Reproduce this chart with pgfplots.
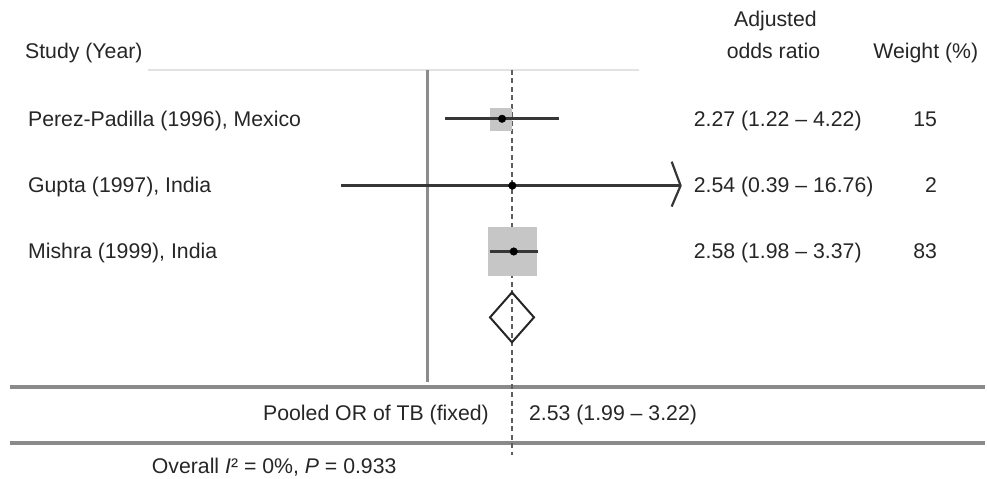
\documentclass[border=0pt]{standalone}
\usepackage{pgfplots}
\pgfplotsset{compat=1.18}
\usepackage{fontspec}
\setmainfont{Liberation Sans}
\definecolor{cigray}{HTML}{363636}
\definecolor{boxgray}{HTML}{C6C6C6}
\definecolor{refgray}{HTML}{8C8C8C}
\definecolor{rulegray}{HTML}{8A8A8A}
\definecolor{dashgray}{HTML}{5E5E5E}
\definecolor{faintgray}{HTML}{E2E2E2}
\begin{document}
\begin{tikzpicture}
\begin{axis}[name=ax, width=987pt, height=479pt, scale only axis,
  xmode=log, xmin=0.009339, xmax=447.6, ymin=0, ymax=479, y dir=reverse,
  hide axis, clip=false]
% faint top rule
\addplot[faintgray, line width=1.5pt] coordinates {(0.047,70) (10.12,70)};
% thick horizontal rules
\addplot[rulegray, line width=4pt] coordinates {(0.01041,388) (447.6,388)};
\addplot[rulegray, line width=4pt] coordinates {(0.01041,444) (447.6,444)};
% line of no effect (OR = 1)
\addplot[refgray, line width=3pt] coordinates {(1,70) (1,383)};
% pooled estimate dashed line
\addplot[dashgray, line width=1.3pt, dash pattern=on 5pt off 3.5pt] coordinates {(2.53,70) (2.53,456)};
% weight boxes
\addplot[fill=boxgray, draw=none] coordinates {(1.99,108) (2.53,108) (2.53,131) (1.99,131)};
\addplot[fill=boxgray, draw=none] coordinates {(1.947,227) (3.32,227) (3.32,277) (1.947,277)};
% confidence intervals
\addplot[cigray, line width=3pt] coordinates {(1.22,119) (4.22,119)};
\addplot[cigray, line width=3pt] coordinates {(0.39,186) (16.01,186)};
\addplot[cigray, line width=3pt] coordinates {(1.98,252) (3.37,252)};
% arrow head for truncated CI
\addplot[cigray, line width=2.2pt, line join=round] coordinates {(14.52,162) (16.01,186) (14.52,207)};
% point estimates
\addplot[only marks, mark=*, mark size=3.8pt, black] coordinates {(2.27,119) (2.54,186) (2.58,252)};
% pooled diamond
\addplot[black!85, line width=2pt, line join=miter] coordinates {(1.99,318) (2.53,293) (3.22,318) (2.53,343) (1.99,318) (2.53,293)};
\end{axis}
\path (ax.north west) rectangle (ax.south east);
\begin{scope}[shift={(ax.north west)}, x=1pt, y=-1pt, every node/.style={inner sep=0pt, text=black!85, font=\fontsize{21.3}{25}\selectfont}]
\node[anchor=base] at (777,27) {Adjusted};
\node[anchor=base] at (775,59) {odds ratio};
\node[anchor=base west] at (25,59) {Study (Year)};
\node[anchor=base west] at (875,59) {Weight (\%)};
\node[anchor=base west] at (28,127) {Perez-Padilla (1996), Mexico};
\node[anchor=base west] at (28,193) {Gupta (1997), India};
\node[anchor=base west] at (28,259) {Mishra (1999), India};
\node[anchor=base west] at (695,127) {2.27 (1.22 – 4.22)};
\node[anchor=base west] at (695,193) {2.54 (0.39 – 16.76)};
\node[anchor=base west] at (695,259) {2.58 (1.98 – 3.37)};
\node[anchor=base east] at (939,127) {15};
\node[anchor=base east] at (939,193) {2};
\node[anchor=base east] at (939,259) {83};
\node[anchor=base east] at (490,421) {Pooled OR of TB (fixed)};
\node[anchor=base west] at (530,421) {2.53 (1.99 – 3.22)};
\node[anchor=base west] at (152,474) {Overall \textit{I}² = 0\%, \textit{P} = 0.933};
\end{scope}
\end{tikzpicture}
\end{document}
